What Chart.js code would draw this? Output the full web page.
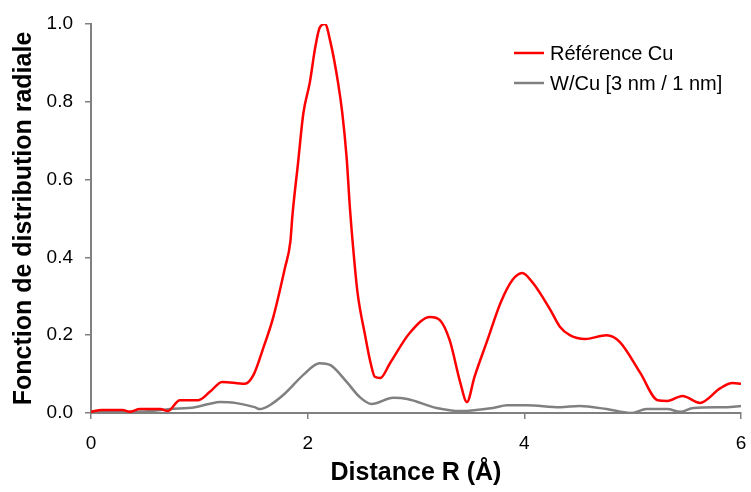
<!DOCTYPE html>
<html>
<head>
<meta charset="utf-8">
<script src="https://cdn.jsdelivr.net/npm/chart.js@4/dist/chart.umd.min.js"></script>
<style>
    html, body { margin: 0; padding: 0; background: #fff; }
    #wrap { width: 751px; height: 492px; }
</style>
</head>
<body>
<div id="wrap"><canvas id="rdfChart" width="751" height="492"></canvas></div>
<script>
// Distance R (Å) et valeurs
const refR = [0.0, 0.10, 0.29, 0.36, 0.45, 0.64, 0.71, 0.82, 0.99, 1.10, 1.21, 1.42, 1.50, 1.59, 1.68, 1.79, 1.84, 1.86, 1.91, 1.96, 2.02, 2.07, 2.11, 2.16, 2.21, 2.28, 2.32, 2.36, 2.39, 2.42, 2.46, 2.53, 2.58, 2.62, 2.67, 2.76, 2.94, 3.13, 3.22, 3.31, 3.41, 3.47, 3.54, 3.66, 3.78, 3.89, 3.98, 4.08, 4.24, 4.33, 4.42, 4.56, 4.76, 4.88, 5.07, 5.23, 5.32, 5.46, 5.62, 5.81, 5.92, 6.0];
const refCu = [0.003, 0.008, 0.008, 0.003, 0.010, 0.010, 0.005, 0.033, 0.033, 0.055, 0.080, 0.075, 0.098, 0.167, 0.244, 0.373, 0.440, 0.510, 0.640, 0.770, 0.850, 0.940, 0.990, 1.000, 0.954, 0.850, 0.770, 0.655, 0.527, 0.424, 0.310, 0.200, 0.130, 0.093, 0.090, 0.128, 0.205, 0.247, 0.239, 0.188, 0.077, 0.028, 0.093, 0.188, 0.283, 0.342, 0.360, 0.334, 0.265, 0.221, 0.200, 0.190, 0.200, 0.183, 0.103, 0.033, 0.031, 0.044, 0.026, 0.064, 0.077, 0.075];

const wcuR = [0.0, 0.50, 0.73, 0.96, 1.10, 1.19, 1.33, 1.51, 1.56, 1.65, 1.79, 1.96, 2.11, 2.21, 2.36, 2.48, 2.59, 2.79, 2.92, 3.19, 3.41, 3.71, 3.84, 4.02, 4.33, 4.51, 4.76, 4.98, 5.13, 5.32, 5.44, 5.56, 5.87, 6.0];
const wcu = [0.003, 0.004, 0.010, 0.015, 0.024, 0.028, 0.026, 0.015, 0.010, 0.020, 0.050, 0.098, 0.128, 0.123, 0.080, 0.041, 0.023, 0.039, 0.036, 0.013, 0.005, 0.013, 0.020, 0.020, 0.015, 0.018, 0.010, 0.000, 0.010, 0.010, 0.003, 0.013, 0.015, 0.018];

const xTicks = [0, 2, 4, 6];
const yTicks = [0.0, 0.2, 0.4, 0.6, 0.8, 1.0];

function toPoints(xs, ys) {
    return xs.map((x, i) => ({ x: x, y: ys[i] }));
}

// légende dessinée à la main (en haut à droite du graphe)
const legendPlugin = {
    id: 'simpleLegend',
    afterDraw(chart) {
        const ctx = chart.ctx;
        ctx.save();
        ctx.font = '20px "Liberation Sans", Arial, sans-serif';
        ctx.textBaseline = 'middle';
        chart.data.datasets.forEach((ds, i) => {
            const y = 53 + i * 30;
            ctx.strokeStyle = ds.borderColor;
            ctx.lineWidth = 2.5;
            ctx.beginPath();
            ctx.moveTo(514, y);
            ctx.lineTo(544, y);
            ctx.stroke();
            ctx.fillStyle = '#000';
            ctx.fillText(ds.label, 550, y + 1);
        });
        ctx.restore();
    }
};

const axisFont = { family: '"Liberation Sans", Arial, sans-serif', size: 19 };
const titleFont = { family: '"Liberation Sans", Arial, sans-serif', size: 25, weight: 'bold' };

new Chart(document.getElementById('rdfChart'), {
    type: 'line',
    data: {
        datasets: [{
            label: 'Référence Cu',
            data: toPoints(refR, refCu),
            borderColor: '#ff0000',
            borderWidth: 2.5,
            pointRadius: 0,
            cubicInterpolationMode: 'monotone'
        }, {
            label: 'W/Cu [3 nm / 1 nm]',
            data: toPoints(wcuR, wcu),
            borderColor: '#808080',
            borderWidth: 2.5,
            pointRadius: 0,
            cubicInterpolationMode: 'monotone'
        }]
    },
    options: {
        responsive: false,
        animation: false,
        layout: { padding: { left: 8, right: 10, top: 24, bottom: 2 } },
        plugins: {
            legend: { display: false },
            tooltip: { enabled: false }
        },
        scales: {
            x: {
                type: 'linear',
                min: 0,
                max: 6,
                afterFit(scale) {
                    scale.height = 77;
                    scale.paddingLeft = 0;
                    scale.paddingRight = 0;
                },
                afterBuildTicks(scale) { scale.ticks = xTicks.map(v => ({ value: v })); },
                ticks: { color: '#000', font: axisFont, padding: 13, callback: v => String(v) },
                grid: { drawOnChartArea: false, drawTicks: true, tickLength: 6, color: '#808080', lineWidth: 1.5 },
                border: { color: '#808080', width: 2 },
                title: { display: true, text: 'Distance R (Å)', color: '#000', font: titleFont, padding: { top: 0, bottom: 2 } }
            },
            y: {
                min: 0,
                max: 1,
                afterFit(scale) {
                    scale.width = 83;
                    scale.paddingTop = 0;
                    scale.paddingBottom = 0;
                },
                afterBuildTicks(scale) { scale.ticks = yTicks.map(v => ({ value: v })); },
                ticks: { color: '#000', font: axisFont, padding: 12, callback: v => v.toFixed(1) },
                grid: { drawOnChartArea: false, drawTicks: true, tickLength: 6, color: '#808080', lineWidth: 1.5 },
                border: { color: '#808080', width: 2 },
                title: { display: true, text: 'Fonction de distribution radiale', color: '#000', font: titleFont, padding: { top: 1, bottom: 0 } }
            }
        }
    },
    plugins: [legendPlugin]
});
</script>
</body>
</html>
